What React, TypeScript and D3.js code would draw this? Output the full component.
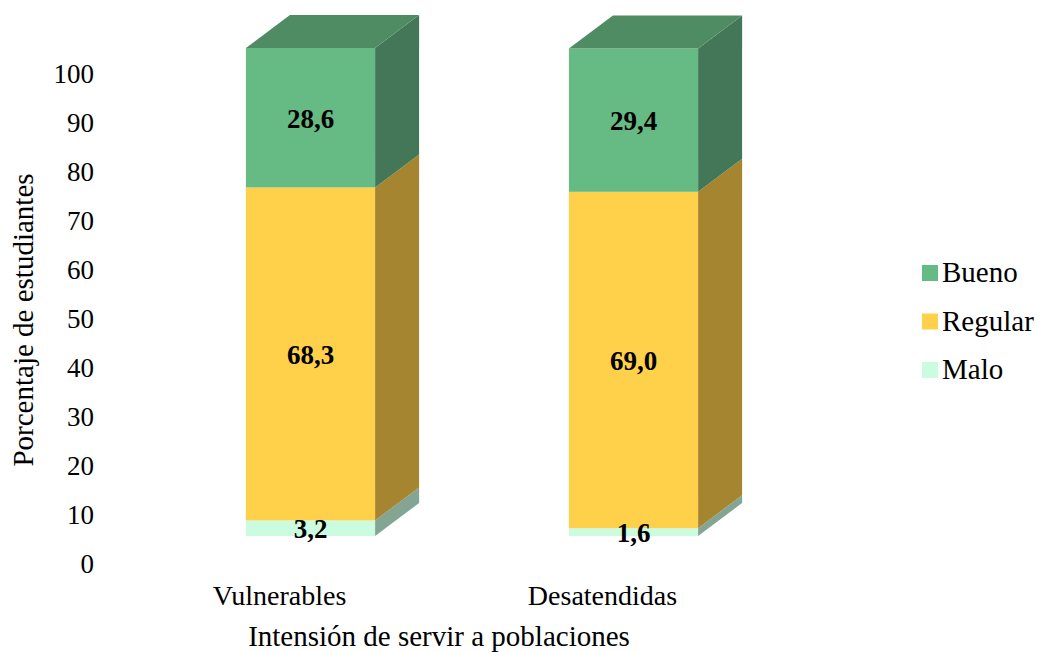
import React from "react";
import * as d3 from "d3";

// Categories and series (percent of students)
const categories = ["Vulnerables", "Desatendidas"];
const seriesNames = ["Malo", "Regular", "Bueno"];
const maloValues = [3.2, 1.6];
const regularValues = [68.3, 69.0];
const buenoValues = [28.6, 29.4];
const yTicks = [0, 10, 20, 30, 40, 50, 60, 70, 80, 90, 100];
const legendOrder = ["Bueno", "Regular", "Malo"];

const W = 1039;
const H = 652;
const FONT = "'Liberation Serif', 'Times New Roman', serif";

const colors: Record<string, { front: string; side: string; top: string }> = {
  Bueno: { front: "#66BA84", side: "#447757", top: "#508C63" },
  Regular: { front: "#FFD04A", side: "#A5852F", top: "#C9A23A" },
  Malo: { front: "#CCFCDF", side: "#83A594", top: "#A7D0B8" },
};

// 3D depth offset of the bars
const DX = 44;
const DY = -33;

export default function App() {
  const rows = categories.map((c, i) => ({
    category: c,
    Malo: maloValues[i],
    Regular: regularValues[i],
    Bueno: buenoValues[i],
  }));

  const stack = d3.stack<any>().keys(seriesNames);
  const layers = stack(rows);

  const x = d3
    .scaleBand<string>()
    .domain(categories)
    .range([149, 795])
    .paddingInner(0)
    .paddingOuter(0);
  const barW = x.step() * 0.4;
  const barX = (c: string) => (x(c) as number) + x.step() / 2 - barW / 2;

  // front face scale of the bars
  const yBar = d3.scaleLinear().domain([0, 100]).range([536, 48.5]);
  // axis label positions
  const yAxis = d3.scaleLinear().domain([0, 100]).range([563, 73]);

  const topKey = seriesNames[seriesNames.length - 1];

  return (
    <svg
      width={W}
      height={H}
      style={{ position: "absolute", left: 0, top: 0, background: "#fff" }}
      fontFamily={FONT}
    >
      {/* y tick labels */}
      {yTicks.map((t) => (
        <text
          key={t}
          x={94}
          y={yAxis(t) + 10}
          textAnchor="end"
          fontSize={27}
          fill="#000"
        >
          {t}
        </text>
      ))}
      <text
        transform={`translate(33,320) rotate(-90)`}
        textAnchor="middle"
        fontSize={29}
        fill="#000"
      >
        Porcentaje de estudiantes
      </text>

      {/* bars */}
      {layers.map((layer) => {
        const key = layer.key;
        const col = colors[key];
        return (
          <g key={key}>
            {layer.map((d, i) => {
              const c = categories[i];
              const xl = barX(c);
              const xr = xl + barW;
              const yt = yBar(d[1]);
              const yb = yBar(d[0]);
              const side = [
                [xr, yt],
                [xr + DX, yt + DY],
                [xr + DX, yb + DY],
                [xr, yb],
              ];
              const top = [
                [xl, yt],
                [xl + DX, yt + DY],
                [xr + DX, yt + DY],
                [xr, yt],
              ];
              return (
                <g key={c}>
                  <rect x={xl} y={yt} width={barW} height={yb - yt} fill={col.front} />
                  <polygon points={side.map((p) => p.join(",")).join(" ")} fill={col.side} />
                  {key === topKey && (
                    <polygon points={top.map((p) => p.join(",")).join(" ")} fill={col.top} />
                  )}
                </g>
              );
            })}
          </g>
        );
      })}

      {/* value labels */}
      {layers.map((layer) =>
        layer.map((d, i) => {
          const c = categories[i];
          const v = d[1] - d[0];
          const cx = barX(c) + barW / 2;
          const cy = (yBar(d[0]) + yBar(d[1])) / 2;
          return (
            <text
              key={layer.key + c}
              x={cx}
              y={cy + 10}
              textAnchor="middle"
              fontSize={27}
              fontWeight="bold"
              fill="#000"
            >
              {v.toFixed(1).replace(".", ",")}
            </text>
          );
        })
      )}

      {/* category labels */}
      {categories.map((c) => (
        <text
          key={c}
          x={(x(c) as number) + x.step() / 2 - 31}
          y={605}
          textAnchor="middle"
          fontSize={28}
          fill="#000"
        >
          {c}
        </text>
      ))}
      <text x={439} y={646} textAnchor="middle" fontSize={29} fill="#000">
        Intensión de servir a poblaciones
      </text>

      {/* legend */}
      {legendOrder.map((k, i) => {
        const y0 = 265 + i * 48.5;
        return (
          <g key={k}>
            <rect x={922} y={y0} width={16} height={16} fill={colors[k].front} />
            <text x={942} y={y0 + 17} fontSize={29} fill="#000">
              {k}
            </text>
          </g>
        );
      })}
    </svg>
  );
}
